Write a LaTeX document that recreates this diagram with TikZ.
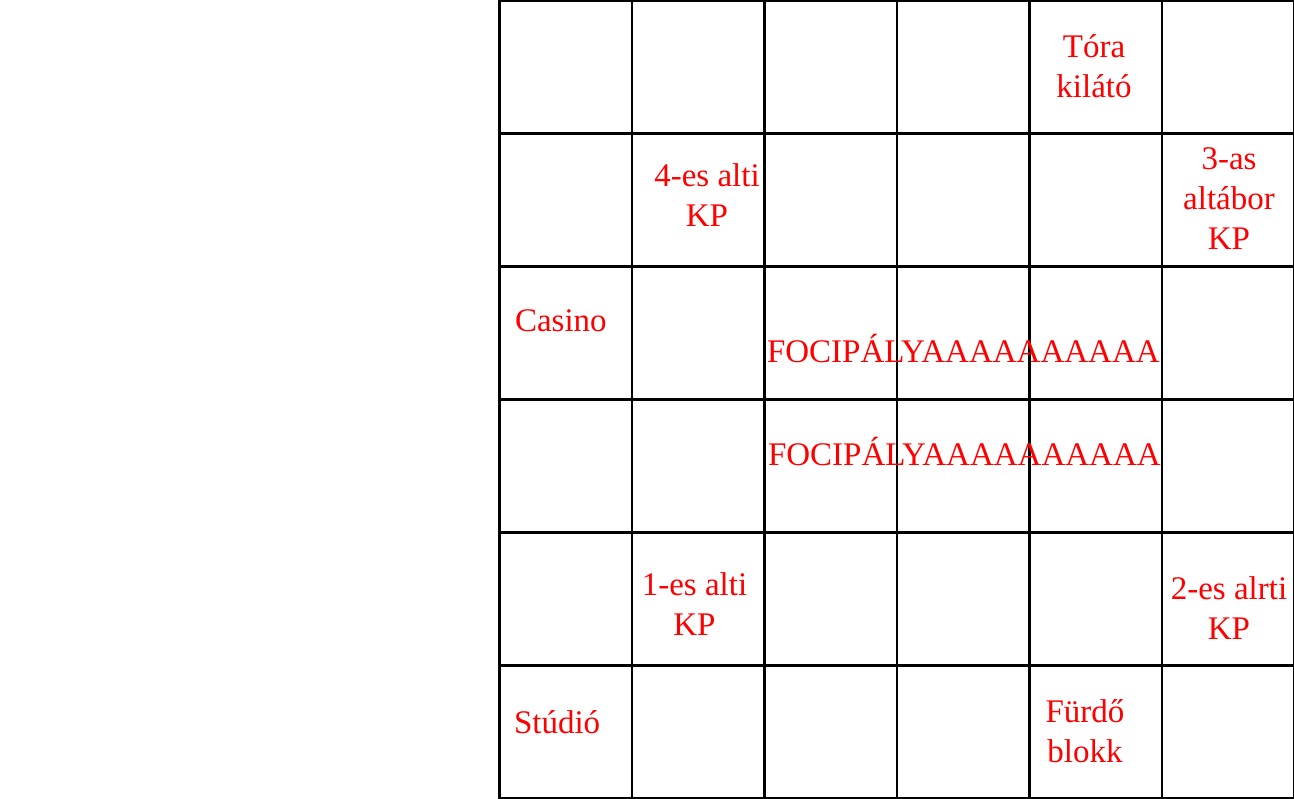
\documentclass[tikz,border=0pt]{standalone}
\usepackage{fontspec}
\setmainfont{Liberation Serif}
\begin{document}
\begin{tikzpicture}[x=1pt,y=-1pt,
  gridline/.style={draw=black,line width=2.5pt},
  lbl/.style={text=red,font=\fontsize{33}{40}\selectfont,inner sep=0pt,outer sep=0pt,align=center,anchor=base}]
\useasboundingbox (0,0) rectangle (1294,799);
\fill[white] (0,0) rectangle (1294,799);
% grid
\foreach \i in {0,...,6} {
  \draw[gridline] ({499.5+132.5*\i},0) -- ({499.5+132.5*\i},799);
}
\foreach \j in {0,...,6} {
  \draw[gridline] (499.5,{0.5+133*\j}) -- (1294,{0.5+133*\j});
}
% labels (anchor = baseline of the last line)
\node[lbl] (tora) at (1094,98) {Tóra\\kilátó};
\node[lbl] (kp3) at (1229,250) {3-as\\altábor\\KP};
\node[lbl] (kp4) at (707,227) {4-es alti\\KP};
\node[lbl,anchor=base west] (casino) at (515,332) {Casino};
\node[lbl,anchor=base west] (foci1) at (767,363) {FOCIPÁLYAAAAAAAAAA};
\node[lbl,anchor=base west] (foci2) at (768,466) {FOCIPÁLYAAAAAAAAAA};
\node[lbl] (kp1) at (694.5,635) {1-es alti\\KP};
\node[lbl] (kp2) at (1229,639) {2-es alrti\\KP};
\node[lbl,anchor=base west] (studio) at (514,733) {Stúdió};
\node[lbl] (furdo) at (1085,762) {Fürdő\\blokk};
\end{tikzpicture}
\end{document}
